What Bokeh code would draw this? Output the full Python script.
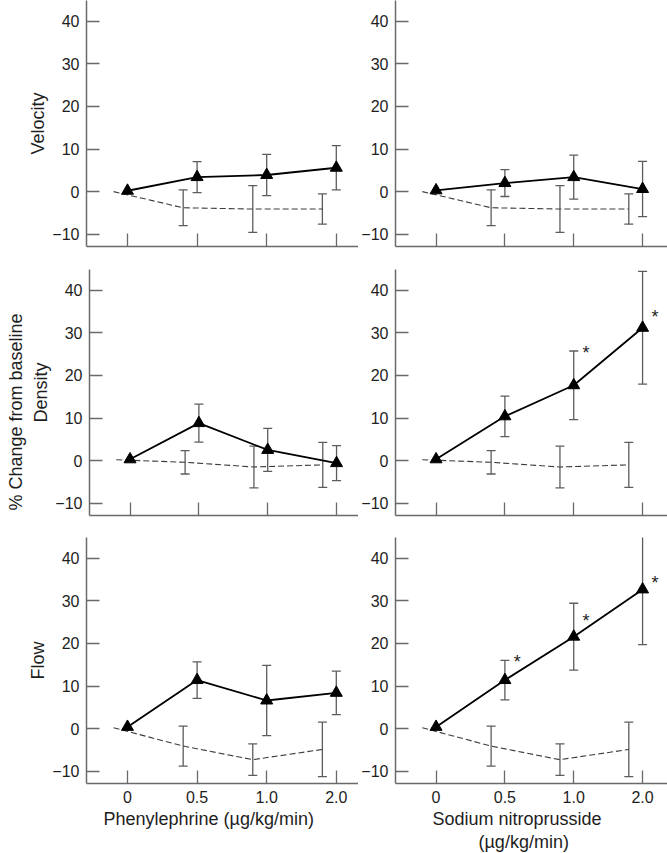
from bokeh.plotting import figure
from bokeh.models import ColumnDataSource, Whisker, TeeHead, FixedTicker, Range1d, Title
from bokeh.layouts import column, row
from bokeh.core.properties import value
from bokeh.embed import file_html
from bokeh.resources import INLINE

# ---------------- data ----------------
doses = ["0", "0.5", "1.0", "2.0"]
dose_idx = [0, 1, 2, 3]
y_ticks = [-10, 0, 10, 20, 30, 40]

# Velocity
vel_phe_mean = [0.2, 3.4, 3.9, 5.6]
vel_phe_se = [0.0, 3.65, 4.85, 5.2]
vel_snp_mean = [0.3, 2.0, 3.4, 0.6]
vel_snp_se = [0.0, 3.15, 5.15, 6.5]
vel_ctrl_mean = [0.0, -3.8, -4.1, -4.1]
vel_ctrl_se = [0.0, 4.2, 5.5, 3.55]

# Density
den_phe_mean = [0.3, 8.8, 2.5, -0.6]
den_phe_se = [0.0, 4.45, 5.05, 4.1]
den_snp_mean = [0.3, 10.4, 17.7, 31.2]
den_snp_se = [0.0, 4.75, 8.05, 13.25]
den_ctrl_mean = [0.2, -0.4, -1.5, -1.0]
den_ctrl_se = [0.0, 2.75, 4.9, 5.3]

# Flow
flow_phe_mean = [0.4, 11.4, 6.6, 8.4]
flow_phe_se = [0.0, 4.3, 8.25, 5.1]
flow_snp_mean = [0.4, 11.4, 21.6, 32.7]
flow_snp_se = [0.0, 4.65, 7.85, 12.95]
flow_ctrl_mean = [0.2, -4.1, -7.3, -4.9]
flow_ctrl_se = [0.0, 4.7, 3.7, 6.4]

# significance marks: dose index and height of the "*"
den_snp_sig_dose = [2, 3]
den_snp_sig_y = [26.4, 34.8]
flow_snp_sig_dose = [1, 2, 3]
flow_snp_sig_y = [16.9, 26.4, 35.3]

# ---------------- style ----------------
FONT = "Liberation Sans"
TEXT = "#1e1e1e"
AXIS = "#6a6a6a"
ERR = "#5c5c5c"
CTRL_DX = -0.2
STAR_DX = 0.18
Y_RANGE = (-12.9, 44.9)


def whiskers(p, xs, mean, se, color):
    keep = [i for i in range(len(xs)) if se[i] > 0]
    src = ColumnDataSource(dict(
        x=[xs[i] for i in keep],
        lo=[mean[i] - se[i] for i in keep],
        hi=[mean[i] + se[i] for i in keep],
    ))
    w = Whisker(base="x", lower="lo", upper="hi", source=src,
                line_color=color, line_width=1.3,
                lower_head=TeeHead(size=9, line_color=color, line_width=1.3),
                upper_head=TeeHead(size=9, line_color=color, line_width=1.3))
    p.add_layout(w)


def panel(width, height, b_left, b_bottom, x_rng, mean, se, cmean, cse,
          ylabel=None, xlabels=False, sig=None):
    p = figure(width=width, height=height,
               x_range=Range1d(*x_rng), y_range=Range1d(*Y_RANGE),
               output_backend="svg", toolbar_location=None,
               min_border_left=b_left, min_border_right=0,
               min_border_top=0, min_border_bottom=b_bottom)
    p.outline_line_color = None
    p.grid.grid_line_color = None

    xa = p.xaxis[0]
    xa.ticker = FixedTicker(ticks=dose_idx)
    if xlabels:
        xa.major_label_overrides = {i: d for i, d in zip(dose_idx, doses)}
        xa.major_label_text_font_size = "16px"
        xa.major_label_standoff = 7
    else:
        xa.major_label_overrides = {i: "" for i in dose_idx}
        xa.major_label_text_font_size = "6px"
        xa.major_label_standoff = 0
    ya = p.yaxis[0]
    ya.ticker = FixedTicker(ticks=y_ticks)
    ya.major_label_overrides = {-10: "\u221210"}
    ya.major_label_text_font_size = "16px"
    ya.major_label_standoff = 7
    for ax in (xa, ya):
        ax.axis_line_color = AXIS
        ax.axis_line_width = 1.5
        ax.major_tick_line_color = AXIS
        ax.major_tick_line_width = 1.3
        ax.major_tick_in = 13
        ax.major_tick_out = 0
        ax.minor_tick_line_color = None
        ax.major_label_text_font = FONT
        ax.major_label_text_color = TEXT
    if ylabel:
        ya.axis_label = ylabel
        ya.axis_label_text_font = FONT
        ya.axis_label_text_font_size = "18px"
        ya.axis_label_text_font_style = "normal"
        ya.axis_label_text_color = TEXT
        ya.axis_label_standoff = 1

    cx = [i + CTRL_DX for i in dose_idx]
    whiskers(p, cx, cmean, cse, ERR)
    whiskers(p, dose_idx, mean, se, ERR)
    p.line(cx, cmean, line_color="#3c3c3c", line_width=1.1, line_dash="6 3")
    p.line(dose_idx, mean, line_color="black", line_width=1.8)
    p.scatter(dose_idx, mean, marker="triangle", size=12,
              fill_color="black", line_color="black")
    if sig:
        sd, sy = sig
        p.text(x=[d + STAR_DX for d in sd], y=sy, text=["*"] * len(sd),
               text_font=value(FONT), text_font_size="18px", text_color=TEXT,
               text_align="center", text_baseline="middle", y_offset=5)
    return p


def title(text, offset, standoff=0):
    return Title(text=text, align="left", offset=offset, standoff=standoff,
                 text_font=FONT, text_font_size="18px", text_font_style="normal",
                 text_color=TEXT)


LW, RW = 358, 309
LB, RB = 86, 34
LX = (-0.589, 3.319)
RX = (-0.589, 3.362)

p11 = panel(LW, 269, LB, 23, LX, vel_phe_mean, vel_phe_se, vel_ctrl_mean, vel_ctrl_se, ylabel="Velocity")
p12 = panel(RW, 269, RB, 23, RX, vel_snp_mean, vel_snp_se, vel_ctrl_mean, vel_ctrl_se)
p21 = panel(LW, 268, LB, 22, LX, den_phe_mean, den_phe_se, den_ctrl_mean, den_ctrl_se, ylabel="Density")
p21.add_layout(title("% Change from baseline", 5, 6), "left")
p22 = panel(RW, 268, RB, 22, RX, den_snp_mean, den_snp_se, den_ctrl_mean, den_ctrl_se,
            sig=(den_snp_sig_dose, den_snp_sig_y))
p31 = panel(LW, 316, LB, 70, LX, flow_phe_mean, flow_phe_se, flow_ctrl_mean, flow_ctrl_se,
            ylabel="Flow", xlabels=True)
p31.add_layout(title("Phenylephrine (\u00b5g/kg/min)", 17, 2), "below")
p32 = panel(RW, 316, RB, 70, RX, flow_snp_mean, flow_snp_se, flow_ctrl_mean, flow_ctrl_se,
            xlabels=True, sig=(flow_snp_sig_dose, flow_snp_sig_y))
p32.add_layout(title("Sodium nitroprusside", 37, 2), "below")
p32.add_layout(title("(\u00b5g/kg/min)", 83, 0), "below")

layout = column(row(p11, p12), row(p21, p22), row(p31, p32))

open("out.html", "w").write(file_html(layout, INLINE))
